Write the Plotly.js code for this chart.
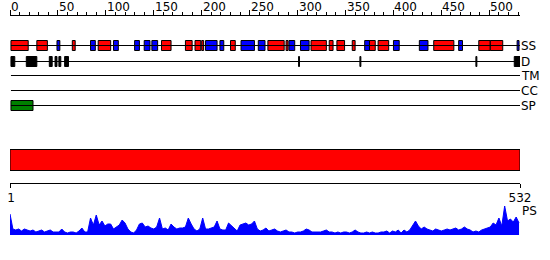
<!DOCTYPE html>
<html>
<head>
<meta charset="utf-8">
<script src="https://cdn.plot.ly/plotly-3.0.1.min.js"></script>
<style>html,body{margin:0;padding:0;background:#fff;}#chart{width:550px;height:260px;}</style>
</head>
<body>
<div id="chart"></div>
<script>
// ---- data ----
var seqLength = 532;
var topTickVals = [0, 50, 100, 150, 200, 250, 300, 350, 400, 450, 500];
var bottomTickVals = [1, 532];
var trackNames = ["SS", "D", "TM", "CC", "SP"];

// secondary structure: helix (red) and strand (blue) segments
var helixStart = [1, 28, 65, 92, 158, 183, 193, 200, 230, 269, 288, 314, 333, 341, 357, 375, 384, 442, 489, 501];
var helixEnd   = [19, 39, 68, 105, 168, 190, 199, 202, 235, 286, 290, 330, 337, 349, 360, 381, 395, 463, 501, 514];
var strandStart = [49, 84, 108, 130, 140, 148, 204, 219, 241, 259, 291, 303, 370, 400, 427, 468, 529];
var strandEnd   = [52, 89, 113, 135, 146, 154, 216, 223, 255, 266, 297, 312, 375, 406, 436, 472, 531];

// disorder segments
var disStart = [1, 17, 41, 47, 51, 57, 301, 365, 486, 526];
var disEnd   = [5, 28, 44, 49, 53, 61, 302, 366, 487, 532];

// signal peptide
var spStart = [1];
var spEnd = [24];

// full-length domain bar
var domStart = [0];
var domEnd = [532];

// PS profile
var psPos = [];
var psVal = [21,6,5,6,4,6,5,4,5,3,4,5,3,4,5,3,3,3,6,3,2,3,3,2,4,7,3,3,
  17,10,20,10,14,9,11,11,6,8,10,15,12,6,3,2,5,11,12,8,9,7,6,8,17,6,7,5,11,8,6,7,7,8,
  17,11,6,4,6,17,6,6,7,8,14,6,5,5,12,9,6,4,10,11,12,10,11,14,6,4,5,7,4,5,6,
  4,3,4,5,3,3,2,3,3,4,6,5,3,3,3,3,4,5,3,3,2,3,2,3,3,2,3,5,3,2,2,3,2,3,2,2,3,3,4,2,4,3,5,2,5,3,5,
  9,14,9,6,8,6,5,4,6,5,4,5,6,5,6,7,5,6,8,6,5,3,4,3,5,6,7,8,12,10,17,9,29,14,16,13,18,12];
for (var i = 0; i < psVal.length; i++) psPos.push(i * 3);

// ---- layout geometry (pixel-like y scale for tracks) ----
var trackY = {SS: 45.5, D: 61.5, TM: 75.5, CC: 90.5, SP: 105.5};
var H = 260;

function hbar(starts, ends, yv, color, xa, w) {
  var len = [], ys = [];
  for (var k = 0; k < starts.length; k++) { len.push(ends[k] - starts[k]); ys.push(yv); }
  return {type: 'bar', orientation: 'h', base: starts, x: len, y: ys, width: w,
    xaxis: xa || 'x', yaxis: 'y',
    marker: {color: color, line: {color: '#000', width: 1}}, hoverinfo: 'skip'};
}

var traces = [];
trackNames.forEach(function (n) {
  traces.push({type: 'scatter', mode: 'lines', x: [1, seqLength], y: [trackY[n], trackY[n]],
    xaxis: 'x', yaxis: 'y', line: {color: '#000', width: 1}, hoverinfo: 'skip'});
});
traces.push(hbar(helixStart, helixEnd, trackY.SS, '#ff0000', 'x', 10));
traces.push(hbar(strandStart, strandEnd, trackY.SS, '#0000ff', 'x', 10));
traces.push(hbar(disStart, disEnd, trackY.D, '#000000', 'x', 10));
traces.push(hbar(spStart, spEnd, trackY.SP, '#008000', 'x', 10));
traces.push(hbar(domStart, domEnd, 160, '#ff0000', 'x2', 21));
traces.push({type: 'scatter', mode: 'lines', x: psPos, y: psVal, xaxis: 'x', yaxis: 'y2',
  fill: 'tozeroy', fillcolor: '#0000ff', line: {color: '#0000ff', width: 1}, hoverinfo: 'skip'});

var font = {family: 'DejaVu Sans', size: 12, color: '#000'};
var annotations = [];
topTickVals.forEach(function (v) {
  annotations.push({x: v, y: 6.5, xref: 'x', yref: 'y', text: String(v), showarrow: false,
    xanchor: 'left', yanchor: 'middle', font: font, xshift: -1});
});
trackNames.forEach(function (n) {
  annotations.push({x: seqLength, y: trackY[n], xref: 'x', yref: 'y', text: n, showarrow: false,
    xanchor: 'left', yanchor: 'middle', font: font, xshift: -1});
});
annotations.push({x: seqLength, y: 211, xref: 'x', yref: 'y', text: 'PS', showarrow: false,
  xanchor: 'left', yanchor: 'middle', font: font, xshift: 0});

var layout = {
  width: 550, height: H,
  margin: {l: 10, r: 30, t: 0, b: 0, pad: 0},
  paper_bgcolor: '#fff', plot_bgcolor: '#fff',
  showlegend: false, barmode: 'overlay', hovermode: false,
  font: font,
  xaxis: {range: [0, seqLength], anchor: 'free', position: 1 - 15 / H, side: 'top',
    showline: true, linecolor: '#000', linewidth: 1, showgrid: false, zeroline: false,
    tickmode: 'linear', tick0: 0, dtick: 50, ticks: 'outside', ticklen: 5, tickcolor: '#000',
    showticklabels: false,
    minor: {tick0: 0, dtick: 10, ticks: 'outside', ticklen: 3, tickcolor: '#000', showgrid: false}},
  xaxis2: {range: [0, seqLength], overlaying: 'x', anchor: 'free', position: 1 - 183 / H, side: 'bottom',
    showline: true, linecolor: '#000', linewidth: 1, showgrid: false, zeroline: false,
    tickmode: 'array', tickvals: bottomTickVals, ticktext: bottomTickVals.map(String),
    ticks: 'outside', ticklen: 4, tickcolor: '#000', tickfont: font},
  yaxis: {range: [H, 0], domain: [0, 1], visible: false, fixedrange: true},
  yaxis2: {range: [0, 30], domain: [(H - 235) / H, (H - 205) / H], visible: false, anchor: 'x'},
  annotations: annotations
};

Plotly.newPlot('chart', traces, layout, {staticPlot: true, displayModeBar: false});
</script>
</body>
</html>
